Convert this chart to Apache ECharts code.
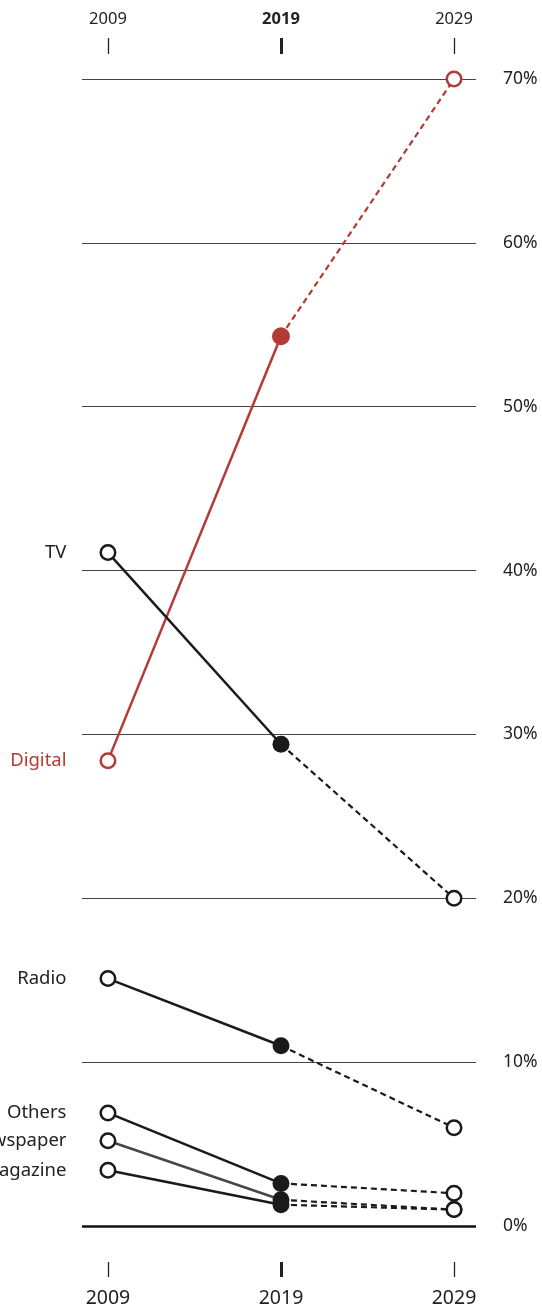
<!DOCTYPE html>
<html>
<head>
<meta charset="utf-8">
<script src="https://cdn.jsdelivr.net/npm/echarts@6/dist/echarts.min.js"></script>
<style>
  html, body { margin: 0; padding: 0; background: #fff; }
  #chart { width: 542px; height: 1313px; }
</style>
</head>
<body>
<div id="chart"></div>
<script>
// data
const years = [2009, 2019, 2029];
const names = ['Digital', 'TV', 'Radio', 'Others', 'Newspaper', 'Magazine'];
const digital = [28.4, 54.3, 70.0];
const tv = [41.1, 29.4, 20.0];
const radio = [15.1, 11.0, 6.0];
const others = [6.9, 2.6, 2.0];
const newspaper = [5.2, 1.6, 1.0];
const magazine = [3.4, 1.3, 1.0];
const yTicks = [0, 10, 20, 30, 40, 50, 60, 70];

const values = [digital, tv, radio, others, newspaper, magazine];
const lineColors = ['#b33a36', '#1a1a1a', '#1a1a1a', '#1a1a1a', '#474747', '#1a1a1a'];
const markColors = ['#b33a36', '#1a1a1a', '#1a1a1a', '#1a1a1a', '#1a1a1a', '#1a1a1a'];
const labelColors = ['#b33a36', '#222', '#222', '#222', '#222', '#222'];

const font = '"Noto Sans", "Open Sans", sans-serif';
const xMin = 2007.5, xMax = 2030.27;

function hollow(c) {
  return { symbol: 'circle', symbolSize: 14.5, itemStyle: { color: '#fff', borderColor: c, borderWidth: 2.5 } };
}
function filled(c, size) {
  return { symbol: 'circle', symbolSize: size, itemStyle: { color: c, borderColor: c, borderWidth: 0 } };
}

const dashedSeries = [];
const solidSeries = [];
names.forEach(function (name, i) {
  const v = values[i];
  const m = markColors[i];
  dashedSeries.push({
    type: 'line',
    name: name + ' forecast',
    xAxisIndex: 0, yAxisIndex: 0,
    silent: true,
    data: [
      Object.assign({ value: [years[1], v[1]] }, { symbol: 'none' }),
      Object.assign({ value: [years[2], v[2]] }, hollow(m))
    ],
    lineStyle: { color: m, width: 2.2, type: [6, 4] },
    z: 3
  });
  const first = Object.assign({ value: [years[0], v[0]] }, hollow(m));
  first.label = {
    show: true, position: 'left', distance: 33, formatter: name,
    fontFamily: font, fontSize: 18.5, color: labelColors[i]
  };
  solidSeries.push({
    type: 'line',
    name: name,
    xAxisIndex: 0, yAxisIndex: 0,
    silent: true,
    data: [first, Object.assign({ value: [years[1], v[1]] }, filled(m, i === 0 ? 18 : 17))],
    lineStyle: { color: lineColors[i], width: 2.5 },
    z: 4
  });
});

// zero baseline
dashedSeries[0].markLine = {
  silent: true,
  symbol: ['none', 'none'],
  label: { show: false },
  lineStyle: { color: '#111', width: 2.5, type: 'solid' },
  data: [{ yAxis: 0 }]
};

function xAxis(grid, pos, ticks, opts) {
  return {
    type: 'value', gridIndex: grid, position: pos, min: xMin, max: xMax,
    offset: opts.offset,
    axisLine: { show: false, onZero: false },
    splitLine: { show: false },
    axisTick: { show: true, length: opts.len, customValues: ticks, lineStyle: { color: '#222', width: opts.tickW } },
    axisLabel: {
      customValues: ticks, margin: opts.margin, fontFamily: font,
      fontSize: opts.size, color: '#222', fontWeight: opts.bold ? 'bold' : 'normal',
      formatter: function (val) { return String(Math.round(val)); }
    }
  };
}

const chart = echarts.init(document.getElementById('chart'));
chart.setOption({
  animation: false,
  backgroundColor: '#fff',
  grid: [
    { left: 82, right: 66, top: 79, bottom: 87 },
    { left: 82, right: 66, top: 79, bottom: 87 }
  ],
  xAxis: [
    xAxis(0, 'top', [years[0], years[2]], { offset: 25, len: 16, tickW: 1.3, margin: 26, size: 16.5 }),
    xAxis(0, 'bottom', [years[0], years[2]], { offset: 36, len: 15, tickW: 1.3, margin: 26, size: 19.5 }),
    xAxis(1, 'top', [years[1]], { offset: 25, len: 16, tickW: 3, margin: 26, size: 16.5, bold: true }),
    xAxis(1, 'bottom', [years[1]], { offset: 36, len: 15, tickW: 3, margin: 26, size: 19.5 })
  ],
  yAxis: [
    {
      type: 'value', gridIndex: 0, position: 'right', min: 0, max: 70, interval: 10,
      axisLine: { show: false }, axisTick: { show: false },
      splitLine: { show: true, lineStyle: { color: '#444', width: 1 } },
      axisLabel: {
        margin: 27, fontFamily: font, fontSize: 17.5, color: '#222',
        customValues: yTicks,
        formatter: '{value}%'
      }
    },
    { type: 'value', gridIndex: 1, min: 0, max: 70, show: false }
  ],
  series: dashedSeries.concat(solidSeries)
});
</script>
</body>
</html>
